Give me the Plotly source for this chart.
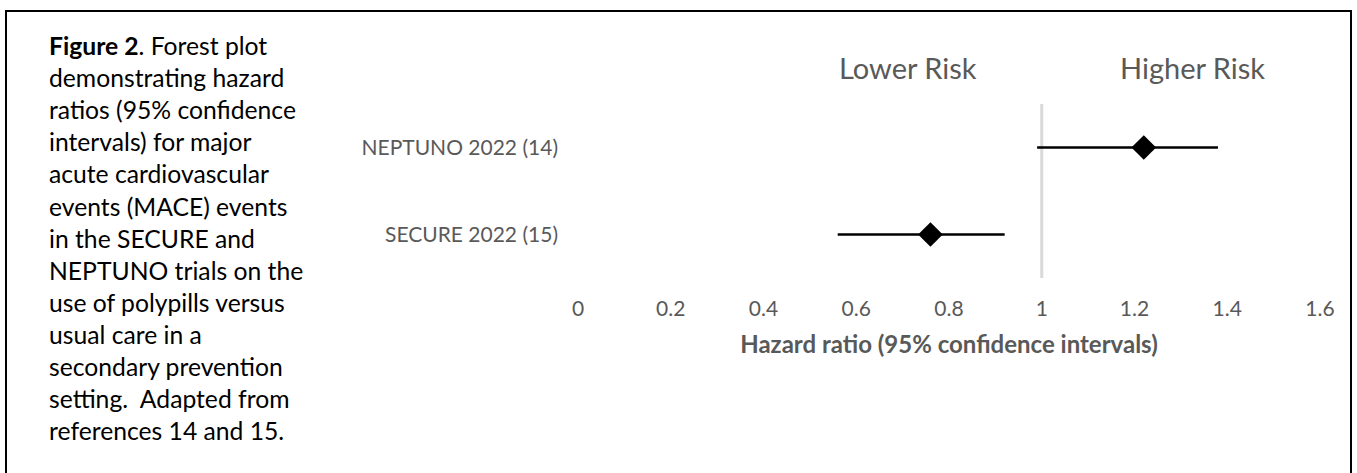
import plotly.graph_objects as go

# Trial results: hazard ratio with 95% confidence interval
studies = ["SECURE 2022 (15)", "NEPTUNO 2022 (14)"]
hazard_ratio = [0.76, 1.22]
ci_lower = [0.56, 0.99]
ci_upper = [0.92, 1.38]
x_ticks = [0, 0.2, 0.4, 0.6, 0.8, 1, 1.2, 1.4, 1.6]
x_tick_labels = ["0", "0.2", "0.4", "0.6", "0.8", "1", "1.2", "1.4", "1.6"]

caption = (
    "<b>Figure 2</b>. Forest plot<br>"
    "demonstrating hazard<br>"
    "ratios (95% confidence<br>"
    "intervals) for major<br>"
    "acute cardiovascular<br>"
    "events (MACE) events<br>"
    "in the SECURE and<br>"
    "NEPTUNO trials on the<br>"
    "use of polypills versus<br>"
    "usual care in a<br>"
    "secondary prevention<br>"
    "setting.  Adapted from<br>"
    "references 14 and 15."
)

W, H = 1357, 473
L, R, T, B = 578, 1320, 104, 278  # plot area in pixels
FONT = "Lato, 'Open Sans', sans-serif"
GREY = "#595959"


def px_x(p):
    return (p - L) / (R - L)


def px_y(p):
    return (B - p) / (B - T)


ypos = list(range(1, len(studies) + 1))

fig = go.Figure()
fig.add_trace(go.Scatter(
    x=hazard_ratio,
    y=ypos,
    mode="markers",
    marker=dict(symbol="diamond", size=19, color="black"),
    error_x=dict(
        type="data",
        symmetric=False,
        array=[u - h for u, h in zip(ci_upper, hazard_ratio)],
        arrayminus=[h - l for h, l in zip(hazard_ratio, ci_lower)],
        color="black",
        thickness=2.6,
        width=0,
    ),
    showlegend=False,
    hoverinfo="skip",
))

# line of no effect at HR = 1
fig.add_shape(type="line", xref="x", yref="y", x0=1, x1=1, y0=0.5, y1=2.5,
              line=dict(color="#d9d9d9", width=3), layer="below")

# outer frame
fig.add_shape(type="rect", xref="paper", yref="paper",
              x0=px_x(6), x1=px_x(1351), y0=px_y(490), y1=px_y(11),
              line=dict(color="black", width=2))

fig.add_annotation(text="Lower Risk", xref="paper", yref="paper",
                   x=px_x(908), y=px_y(67), xanchor="center", yanchor="middle",
                   showarrow=False, font=dict(family=FONT, size=29, color=GREY))
fig.add_annotation(text="Higher Risk", xref="paper", yref="paper",
                   x=px_x(1192), y=px_y(67), xanchor="center", yanchor="middle",
                   showarrow=False, font=dict(family=FONT, size=29, color=GREY))

fig.add_annotation(text=caption, xref="paper", yref="paper",
                   x=px_x(47), y=px_y(238), xanchor="left", yanchor="middle",
                   align="left", showarrow=False,
                   font=dict(family=FONT, size=24.7, color="black"))

fig.update_layout(
    width=W, height=H,
    margin=dict(l=L, r=W - R, t=T, b=H - B),
    paper_bgcolor="white", plot_bgcolor="white",
    font=dict(family=FONT, color=GREY),
    xaxis=dict(
        range=[0, 1.6], tickvals=x_ticks, ticktext=x_tick_labels,
        showgrid=False, zeroline=False, showline=False, ticks="",
        tickfont=dict(size=21, color=GREY), ticklabelstandoff=16,
        title=dict(text="<b>Hazard ratio (95% confidence intervals)</b>",
                   font=dict(size=24, color=GREY), standoff=17),
    ),
    yaxis=dict(
        range=[0.5, 2.5], tickvals=ypos, ticktext=studies,
        showgrid=False, zeroline=False, showline=False, ticks="",
        tickfont=dict(size=21, color=GREY), ticklabelstandoff=19,
    ),
)

fig.write_html("out.html")
